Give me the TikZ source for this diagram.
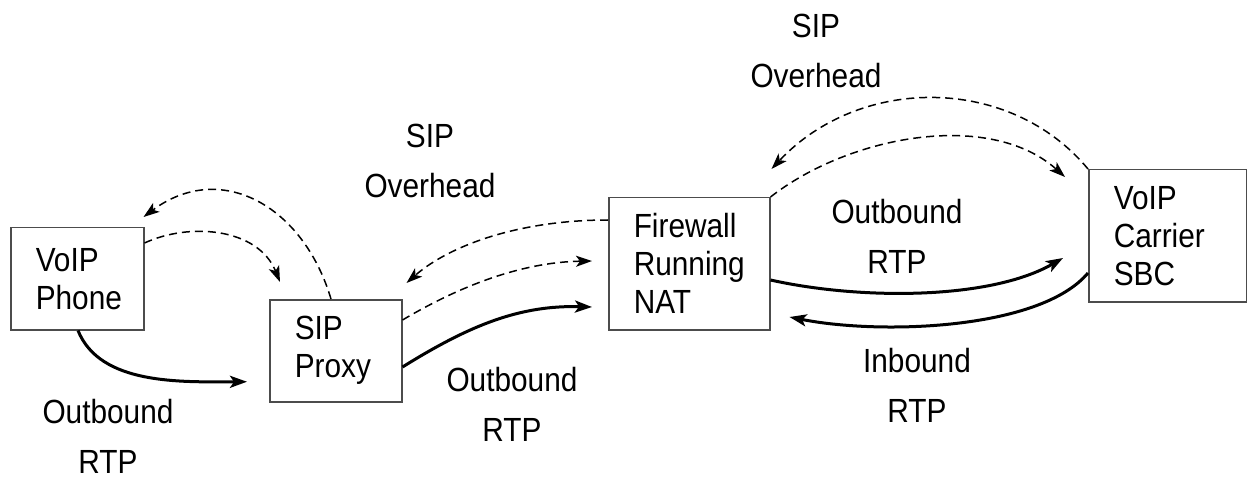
\documentclass[tikz,border=0pt]{standalone}
\usepackage{fontspec}
\setmainfont{Liberation Sans}[FakeStretch=0.89]
\usetikzlibrary{arrows.meta,calc}
\begin{document}
\begin{tikzpicture}[x=1pt,y=-1pt,
  box/.style={draw=black!70,line width=1.5pt,anchor=north west,inner xsep=25pt,inner ysep=0pt,
    align=left,font=\fontsize{33.5}{38}\selectfont},
  lbl/.style={align=center,inner sep=0pt,font=\fontsize{33.5}{50}\selectfont},
  sig/.style={dash pattern=on 8pt off 5pt,line width=1.5pt,-{Stealth[length=16pt,width=11pt,inset=4pt]}},
  rtp/.style={line width=3pt,-{Stealth[length=17pt,width=12pt,inset=4pt]}}]
\useasboundingbox (0,0) rectangle (1247,478);
\node[box,text width=83pt,minimum height=102pt] (phone) at (10,227) {VoIP\\Phone};
\node[box,text width=82pt,minimum height=102pt] (proxy) at (269,299) {SIP\\Proxy};
\node[box,text width=111pt,minimum height=132pt] (fw) at (608,197) {Firewall\\Running\\NAT};
\node[box,text width=108pt,minimum height=132pt] (sbc) at (1088,169) {VoIP\\Carrier\\SBC};

\node[lbl] (l1) at (816,50.5) {SIP\\Overhead};
\node[lbl] (l2) at (430,160.5) {SIP\\Overhead};
\node[lbl] (l3) at (108,436) {Outbound\\RTP};
\node[lbl] (l4) at (512,404.5) {Outbound\\RTP};
\node[lbl] (l5) at (897,236) {Outbound\\RTP};
\node[lbl] (l6) at (917,385.5) {Inbound\\RTP};

% left pair
\draw[sig] ($(proxy.north west)+(62,0)$) .. controls (303,205) and (220,160) .. ($(phone.north east)+(-1,-10)$);
\draw[sig] ($(phone.north east)+(0,16)$) .. controls (190,222) and (258,228) .. ($(proxy.north west)+(11,-17)$);
\draw[rtp] ($(phone.south west)+(68,0)$) .. controls (100,385) and (180,382) .. ($(proxy.west)+(-22,31)$);
% middle
\draw[sig] ($(fw.north west)+(0,23)$) .. controls (520,220) and (450,245) .. ($(proxy.north east)+(4,-16)$);
\draw[sig] ($(proxy.north east)+(0,21)$) .. controls (470,280) and (530,262) .. ($(fw.north west)+(-16,64)$);
\draw[rtp] ($(proxy.north east)+(0,68)$) .. controls (470,325) and (520,305) .. ($(fw.north west)+(-16,110)$);
% right
\draw[sig] (fw.north east) .. controls (850,135) and (990,110) .. ($(sbc.north west)+(-23,8)$);
\draw[sig] (sbc.north west) .. controls (1010,75) and (860,75) .. ($(fw.north east)+(1,-28)$);
\draw[rtp] ($(fw.north east)+(0,83)$) .. controls (860,300) and (990,300) .. ($(sbc.north west)+(-25,89)$);
\draw[rtp] ($(sbc.north west)+(0,104)$) .. controls (1040,330) and (880,335) .. ($(fw.north east)+(19,120)$);
\end{tikzpicture}
\end{document}
